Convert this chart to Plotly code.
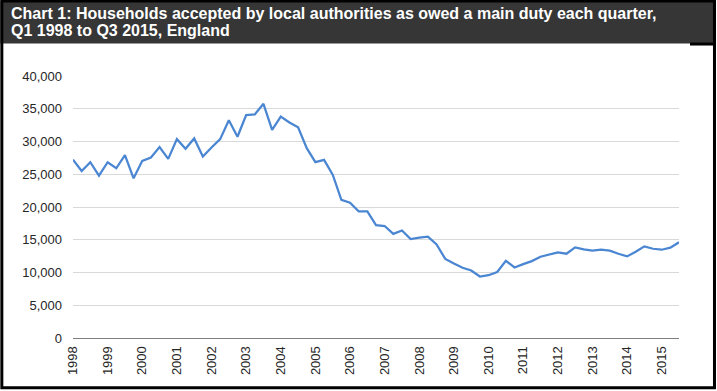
import plotly.graph_objects as go

# Quarterly values, Q1 1998 .. Q3 2015
households = [
    27250, 25510, 26840, 24800,   # 1998
    26840, 25920, 27920, 24390,   # 1999
    27050, 27560, 29150, 27350,   # 2000
    30370, 28890, 30480, 27710,   # 2001
    29090, 30370, 33240, 30730,   # 2002
    34050, 34150, 35760, 31770,   # 2003
    33810, 32920, 32190, 28990,   # 2004
    26860, 27200, 24950, 21110,   # 2005
    20650, 19350, 19330, 17230,   # 2006
    17100, 15900, 16420, 15100,   # 2007
    15330, 15490, 14280, 12080,   # 2008
    11360, 10730, 10300, 9390,    # 2009
    9590, 10080, 11790, 10770,    # 2010
    11280, 11740, 12410, 12760,   # 2011
    13070, 12870, 13840, 13530,   # 2012
    13330, 13480, 13330, 12870,   # 2013
    12460, 13170, 13990, 13630,   # 2014
    13480, 13790, 14610,          # 2015
]
start_year = 1998
year_ticks = list(range(1998, 2016))
year_labels = [str(y) for y in year_ticks]
y_ticks = [0, 5000, 10000, 15000, 20000, 25000, 30000, 35000, 40000]
y_labels = ["0", "5,000", "10,000", "15,000", "20,000", "25,000", "30,000", "35,000", "40,000"]

title_line1 = "Chart 1: Households accepted by local authorities as owed a main duty each quarter,"
title_line2 = "Q1 1998 to Q3 2015, England"

x_vals = [start_year + i / 4 for i in range(len(households))]

W, H = 717, 391
ml, mr, mt, mb = 72.7, 38.0, 75.5, 53.3
pw, ph = W - ml - mr, H - mt - mb


def px(x):
    return (x - ml) / pw


def py(y):
    return (H - mb - y) / ph


fig = go.Figure()
fig.add_trace(go.Scatter(
    x=x_vals, y=households, mode="lines",
    line=dict(color="#4a86d2", width=2.25),
    hoverinfo="skip", showlegend=False,
))

font_fam = "Liberation Sans, Arial, sans-serif"

fig.update_layout(
    width=W, height=H,
    margin=dict(l=ml, r=mr, t=mt, b=mb, pad=0),
    paper_bgcolor="white", plot_bgcolor="white",
    font=dict(family=font_fam, size=13, color="#262626"),
    xaxis=dict(
        range=[1998, 2015.5], tickmode="array", tickvals=year_ticks, ticktext=year_labels,
        tickangle=-90, showgrid=False, zeroline=False, showline=True,
        linecolor="#7f7f7f", linewidth=1, ticks="", ticklabelstandoff=2,
        tickfont=dict(size=13, color="#262626"),
    ),
    yaxis=dict(
        range=[0, 40010], tickmode="array", tickvals=y_ticks, ticktext=y_labels,
        showgrid=True, gridcolor="#d9d9d9", gridwidth=1, zeroline=False,
        showline=False, ticks="", ticklabelstandoff=10,
        tickfont=dict(size=13, color="#262626"),
    ),
    shapes=[
        # header bar
        dict(type="rect", xref="paper", yref="paper", x0=px(0), x1=px(716), y0=py(43), y1=py(0),
             fillcolor="#363636", line=dict(width=0), layer="above"),
        dict(type="rect", xref="paper", yref="paper", x0=px(690), x1=px(716), y0=py(45), y1=py(42),
             fillcolor="black", line=dict(width=0), layer="above"),
        # outer border
        dict(type="rect", xref="paper", yref="paper", x0=px(1.5), x1=px(714.5), y0=py(387.5), y1=py(0.5),
             line=dict(color="black", width=3), fillcolor="rgba(0,0,0,0)", layer="above"),
    ],
    annotations=[
        dict(text="<b>" + title_line1 + "</b>", xref="paper", yref="paper", x=px(9), y=py(23.5),
             xanchor="left", yanchor="bottom", showarrow=False,
             font=dict(family=font_fam, size=16, color="white")),
        dict(text="<b>" + title_line2 + "</b>", xref="paper", yref="paper", x=px(9), y=py(40.5),
             xanchor="left", yanchor="bottom", showarrow=False,
             font=dict(family=font_fam, size=16, color="white")),
    ],
)

fig.write_html(
    "out.html",
    config={"displayModeBar": False},
    post_script="document.body.style.margin='0';document.body.style.overflow='hidden';",
)
